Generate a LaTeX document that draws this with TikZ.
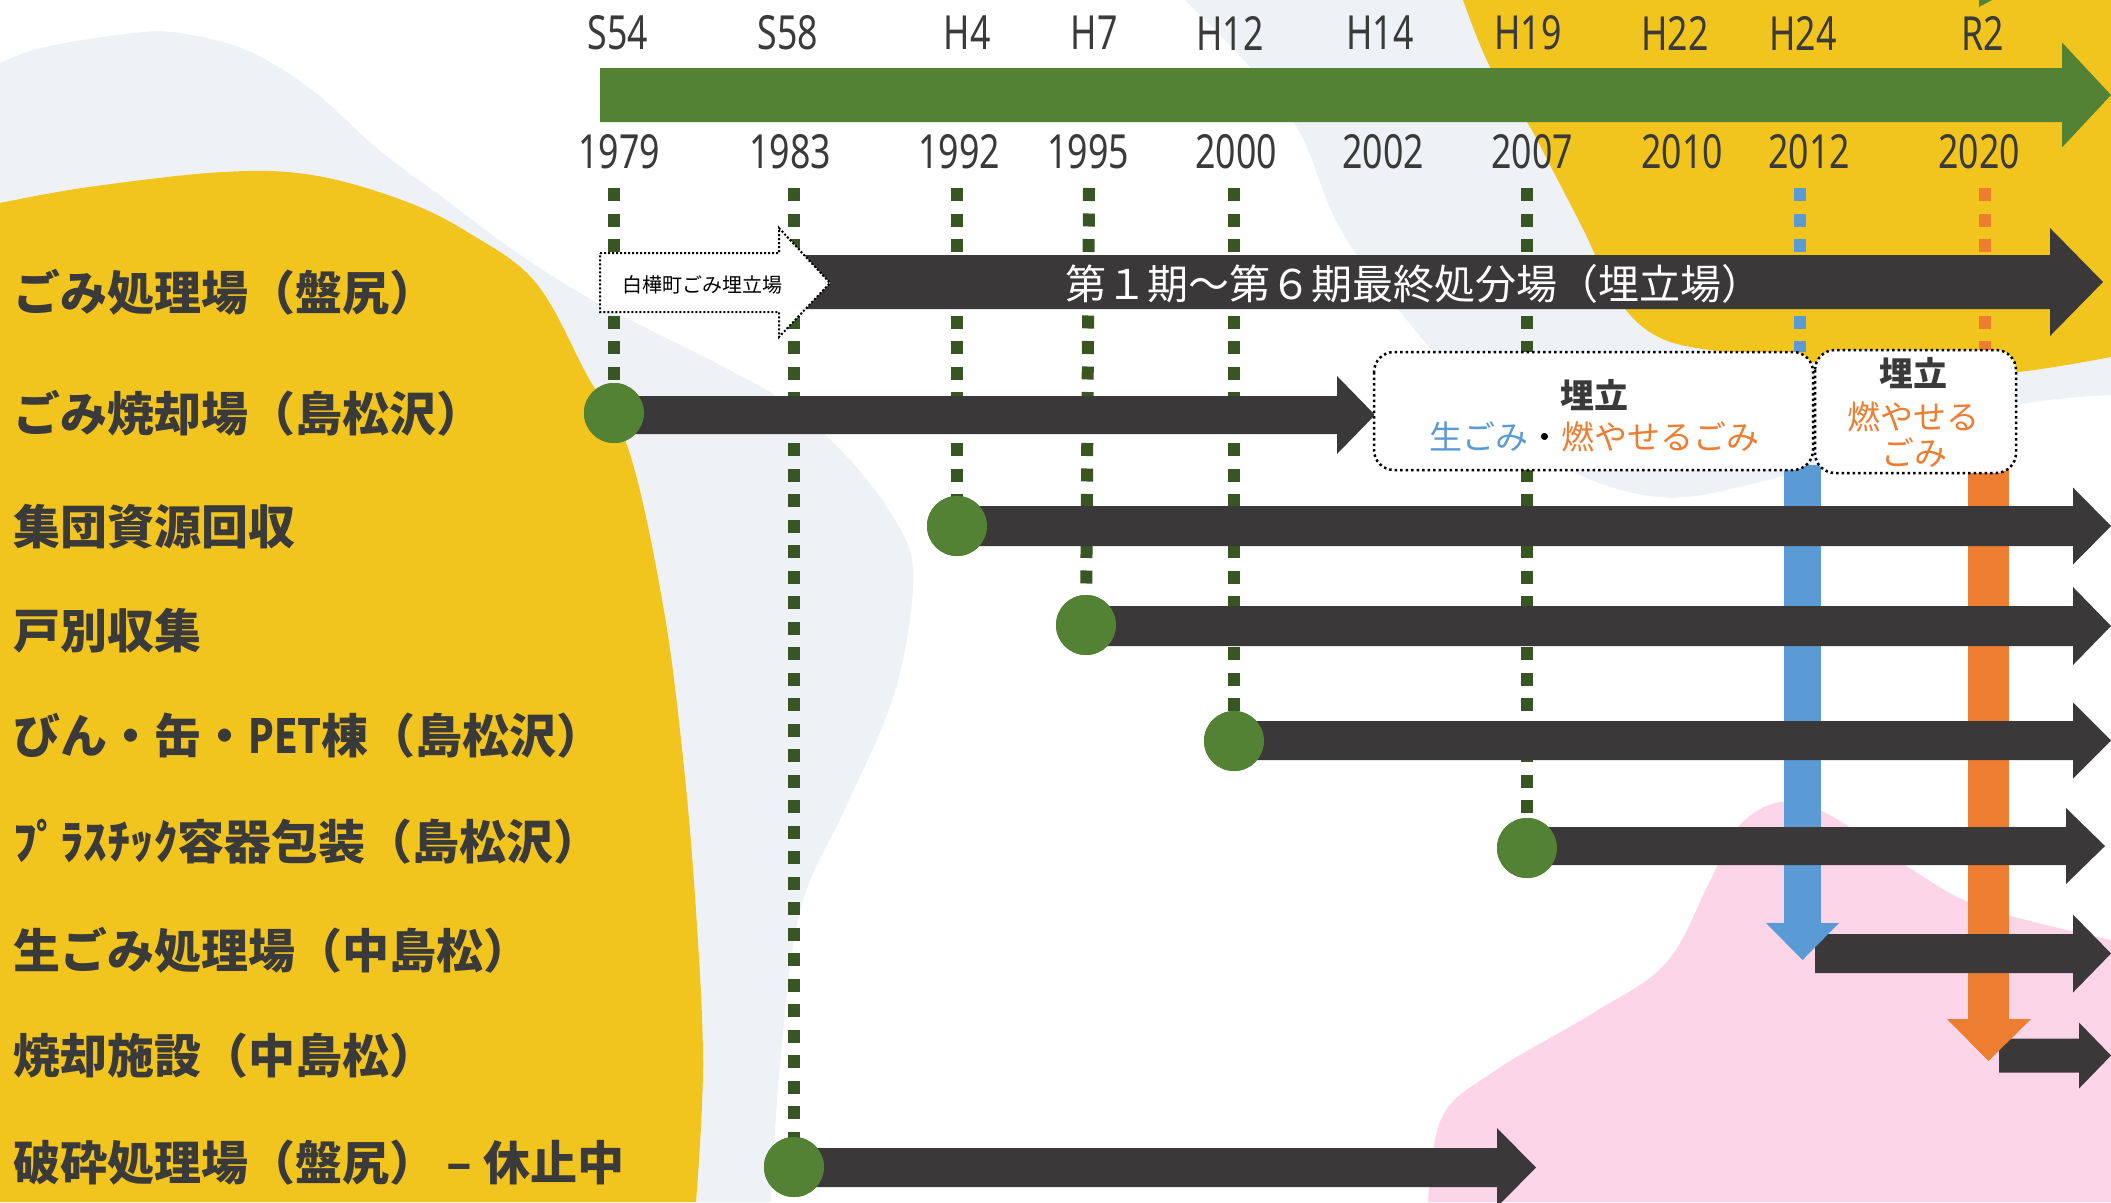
\documentclass[tikz,border=0pt]{standalone}
\usepackage{fontspec}
\setmainfont{Noto Sans CJK JP}
\newfontfamily\numfont[FakeStretch=0.76]{Noto Sans}
\definecolor{ylw}{HTML}{F2C41E}
\definecolor{gbg}{HTML}{EEF1F6}
\definecolor{pnk}{HTML}{FDD5E9}
\definecolor{grn}{HTML}{548235}
\definecolor{dgrn}{HTML}{375623}
\definecolor{dark}{HTML}{3A3838}
\definecolor{blu}{HTML}{5B9BD5}
\definecolor{org}{HTML}{ED7D31}
\definecolor{txt}{HTML}{3A3A3A}
% horizontal block arrow: x-start, head-start, tip, y-centre, half body, half head, colour
\newcommand\harr[7]{\fill[#7] (#1,#4-#5) -- (#2,#4-#5) -- (#2,#4-#6) -- (#3,#4) -- (#2,#4+#6) -- (#2,#4+#5) -- (#1,#4+#5) -- cycle;}
\tikzset{
  lbl/.style={anchor=west, inner sep=0pt, text=txt, font=\bfseries\fontsize{47}{47}\selectfont},
  yr/.style={inner sep=0pt, text=txt, font=\numfont\fontsize{47}{47}\selectfont},
  vdash/.style={line width=12pt, dash pattern=on 13pt off 12.5pt},
  dot/.style={circle, fill=grn, minimum size=60pt, inner sep=0pt},
  dotbox/.style={draw=black, fill=white, line width=2.5pt, dash pattern=on 2.5pt off 3pt, rounded corners=20pt},
}
\begin{document}
\begin{tikzpicture}[x=1pt, y=-1pt]
\useasboundingbox (0,0) rectangle (2111,1202);
\fill[white] (0,0) rectangle (2111,1202);
% ---------- background blobs ----------
\fill[gbg] plot[smooth, tension=0.6] coordinates {(0,63) (45,47) (134,33) (179,33) (246,50) (312,90) (379,150) (446,200) (513,250) (580,293) (650,330) (720,365) (790,405) (850,460) (895,520) (913,569) (905,650) (885,720) (845,809) (800,911) (780,1065) (771,1202)} -- (0,1202) -- cycle;
\fill[gbg] plot[smooth, tension=0.6] coordinates {(1185,0) (1250,67) (1300,133) (1341,230) (1415,330) (1480,400) (1560,465) (1659,497) (1760,482) (1900,440) (2017,405) (2111,395)} -- (2111,0) -- cycle;
\fill[ylw] plot[smooth, tension=0.6] coordinates {(0,203) (89,187) (223,172) (312,175) (402,200) (469,233) (536,283) (588,377) (629,451) (663,605) (683,758) (696,911) (703,1065) (696,1202)} -- (0,1202) -- cycle;
\fill[ylw] plot[smooth, tension=0.6] coordinates {(1463,0) (1490,67) (1527,122) (1551,167) (1585,233) (1618,300) (1665,340) (1750,355) (1813,362) (1950,370) (2017,372) (2111,357)} -- (2111,0) -- cycle;
\fill[pnk] plot[smooth, tension=0.6] coordinates {(1428,1202) (1442,1117) (1496,1070) (1593,1013) (1666,963) (1709,883) (1738,827) (1780,802) (1826,813) (1908,867) (1981,907) (2111,940)} -- (2111,1202) -- cycle;
\fill[grn] (1979,0) -- (1992,0) -- (1979,7) -- cycle;
% ---------- timeline ----------
\harr{600}{2062}{2111}{95}{27}{52.5}{grn}
\foreach \x/\t [count=\i] in {618/S54, 788/S58, 967/H4, 1094/H7, 1230/H12, 1380/H14, 1528/H19, 1675/H22, 1803/H24, 1983/R2}
  \node[yr] (era\i) at (\x,33) {\t};
\foreach \x/\t [count=\i] in {619/1979, 790/1983, 959/1992, 1088/1995, 1236/2000, 1383/2002, 1532/2007, 1682/2010, 1809/2012, 1979/2020}
  \node[yr] (yr\i) at (\x,152) {\t};
% ---------- circles (named) ----------
\node[dot] (c1) at (614,413) {};
\node[dot] (c2) at (957,526) {};
\node[dot] (c3) at (1086,625) {};
\node[dot] (c4) at (1234,741) {};
\node[dot] (c5) at (1527,848) {};
\node[dot] (c6) at (794,1167) {};
\coordinate (t1) at (614,188);
\coordinate (t2) at (794,188);
\coordinate (t3) at (957,188);
\coordinate (t4) at (1089,188);
\coordinate (t5) at (1234,188);
\coordinate (t6) at (1527,188);
\coordinate (tb) at (1800,188);
\coordinate (to) at (1985,188);
% ---------- dashed year lines ----------
\draw[vdash, dgrn] (t1) -- (c1.center);
\draw[vdash, dgrn] (t2) -- (c6.center);
\draw[vdash, dgrn] (t3) -- (c2.center);
\draw[vdash, dgrn] (t4) -- (c3.center);
\draw[vdash, dgrn] (t5) -- (c4.center);
\draw[vdash, dgrn] (t6) -- (c5.center);
\draw[vdash, blu] (tb) -- (1800,352);
\draw[vdash, org] (to) -- (1985,352);
% ---------- vertical coloured bodies ----------
\fill[blu] (1784,465) rectangle (1821,924);
\fill[org] (1968,465) rectangle (2009,1020);
% ---------- landfill arrow ----------
\harr{780}{2050}{2103}{282}{27}{54}{dark}
\node[inner sep=0pt, text=white, font=\fontsize{41}{41}\selectfont] (lf) at (1414,284) {第１期～第６期最終処分場（埋立場）};
\draw[fill=white, line width=2pt, dash pattern=on 2pt off 2pt] (600,253) -- (779,253) -- (779,228) -- (830,283) -- (779,337) -- (779,312) -- (600,312) -- cycle;
\node[inner sep=0pt, text=black, font=\fontsize{20}{20}\selectfont] (old) at (702,285) {白樺町ごみ埋立場};
% ---------- row arrows ----------
\harr{614}{1337}{1375}{415}{19}{39}{dark}
\harr{957}{2073}{2111}{526}{20}{38.5}{dark}
\harr{1086}{2073}{2111}{626}{20}{39}{dark}
\harr{1234}{2073}{2111}{740.5}{19.5}{38}{dark}
\harr{1527}{2066}{2105}{846}{19}{38}{dark}
\harr{1815}{2073}{2111}{953.5}{19.5}{39}{dark}
\harr{1999}{2079}{2111}{1055.5}{17}{33}{dark}
\harr{794}{1497}{1536}{1167.5}{19.5}{39.5}{dark}
% ---------- vertical heads ----------
\fill[blu] (1766,923) -- (1839,923) -- (1802.5,960) -- cycle;
\fill[org] (1947,1019) -- (2031,1019) -- (1988.5,1061) -- cycle;
% redraw circles on top
\foreach \n in {c1,c2,c3,c4,c5,c6} \fill[grn] (\n) circle (30pt);
% ---------- boxes ----------
\draw[dotbox] (1374,352) rectangle (1813,470);
\draw[dotbox] (1815,350) rectangle (2016,473);
\node[inner sep=0pt, text=txt, font=\bfseries\fontsize{34}{34}\selectfont] (b1a) at (1594,395) {埋立};
\node[inner sep=0pt, font=\fontsize{33}{33}\selectfont] (b1b) at (1594,437) {\textcolor{blu}{生ごみ}・\textcolor{org}{燃やせるごみ}};
\node[inner sep=0pt, text=txt, font=\bfseries\fontsize{34}{34}\selectfont] (b2a) at (1913,373) {埋立};
\node[inner sep=0pt, text=org, font=\fontsize{33}{33}\selectfont] (b2b) at (1913,417) {燃やせる};
\node[inner sep=0pt, text=org, font=\fontsize{33}{33}\selectfont] (b2c) at (1914,453) {ごみ};
% ---------- left labels ----------
\node[lbl] (l1) at (13,292) {ごみ処理場（盤尻）};
\node[lbl] (l2) at (13,413) {ごみ焼却場（島松沢）};
\node[lbl] (l3) at (13,527) {集団資源回収};
\node[lbl] (l4) at (13,631) {戸別収集};
\node[lbl] (l5) at (13,736) {びん・缶・\scalebox{0.8}[1]{PET}棟（島松沢）};
\node[lbl] (l6) at (13,842) {ﾌﾟﾗｽﾁｯｸ容器包装（島松沢）};
\node[lbl] (l7) at (13,950) {生ごみ処理場（中島松）};
\node[lbl] (l8) at (13,1056) {焼却施設（中島松）};
\node[lbl] (l9) at (13,1163) {破砕処理場（盤尻） – 休止中};
\end{tikzpicture}
\end{document}
